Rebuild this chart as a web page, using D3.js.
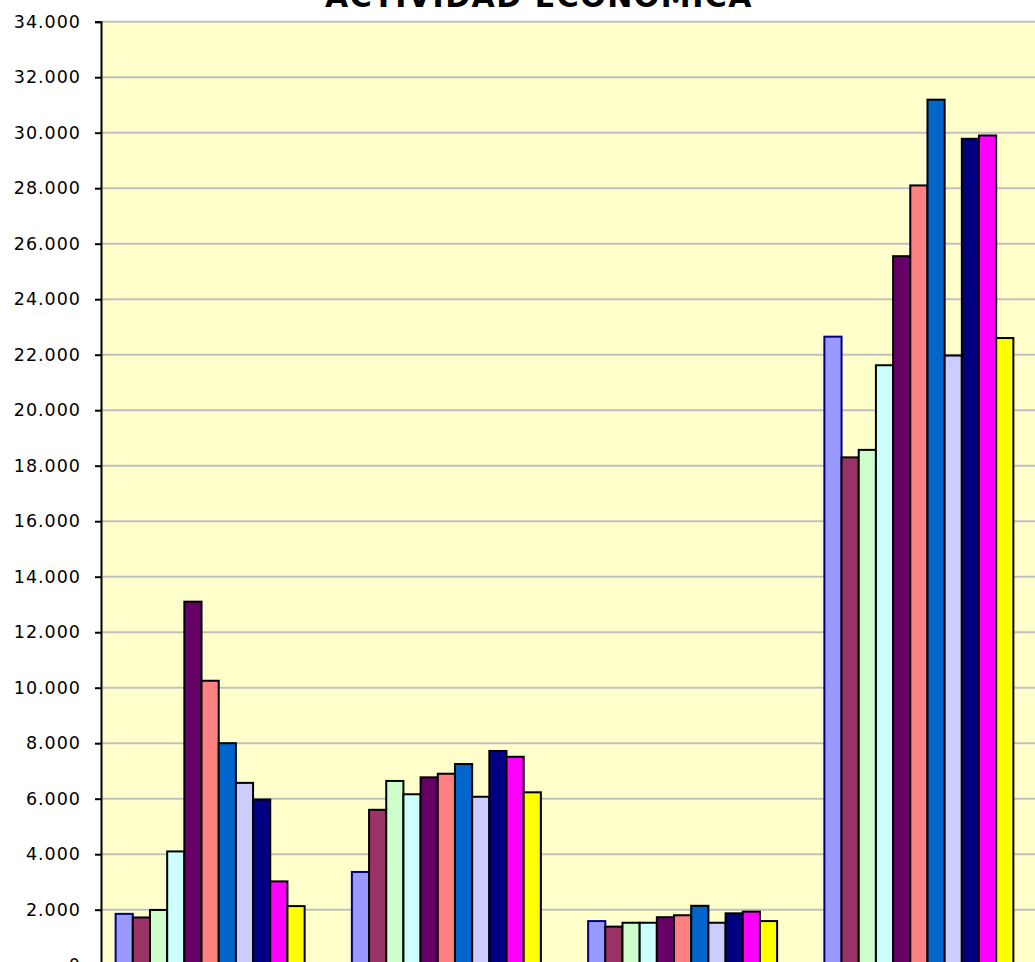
<!DOCTYPE html>
<html>
<head>
<meta charset="utf-8">
<script src="https://cdn.jsdelivr.net/npm/d3@7"></script>
<style>
  html, body { margin: 0; padding: 0; background: #ffffff; }
  svg { display: block; }
</style>
</head>
<body>
<div id="chart"></div>
<script>
// ---- Data ----
const categories = ["Industria", "Construcción", "Agricultura", "Servicios"];
const seriesNames = ["S1", "S2", "S3", "S4", "S5", "S6", "S7", "S8", "S9", "S10", "S11"];
const seriesColors = ["#9999FF", "#993366", "#CCFFCC", "#CCFFFF", "#660066", "#FF8080",
                      "#0066CC", "#CCCCFF", "#000080", "#FF00FF", "#FFFF00"];
const seriesStroke = ["#000080", "#000000", "#000000", "#000000", "#000000", "#000000",
                      "#000000", "#000000", "#000000", "#000000", "#000000"];
// values[seriesIndex][categoryIndex]
const values = [
  [1850, 3360, 1590, 22650],
  [1720, 5600, 1390, 18300],
  [1990, 6640, 1530, 18570],
  [4100, 6160, 1530, 21620],
  [13100, 6770, 1730, 25550],
  [10250, 6900, 1800, 28100],
  [8000, 7250, 2140, 31190],
  [6570, 6070, 1530, 21970],
  [5970, 7720, 1870, 29780],
  [3020, 7510, 1930, 29900],
  [2130, 6230, 1590, 22600]
];
const yTicks = d3.range(0, 34001, 2000);
const title = "ACTIVIDAD ECONÓMICA";

// ---- Layout ----
const W = 1035, H = 962;
const plotLeft = 101, plotTop = 21.7, plotBottom = 965.2, plotRight = 1035;

const svg = d3.select("#chart").append("svg")
  .attr("width", W).attr("height", H);

const y = d3.scaleLinear().domain([0, 34000]).range([plotBottom, plotTop]);
const x0 = d3.scaleBand().domain(categories).range([92, 1037])
  .paddingInner(0.2).paddingOuter(0.1);
const x1 = d3.scaleBand().domain(seriesNames).range([0, x0.bandwidth()]).padding(0);

// background
svg.append("rect")
  .attr("x", plotLeft).attr("y", plotTop)
  .attr("width", plotRight - plotLeft).attr("height", plotBottom - plotTop)
  .attr("fill", "#FFFFCC");

// gridlines
svg.append("g").selectAll("line")
  .data(yTicks.filter(d => d > 0))
  .join("line")
  .attr("x1", plotLeft).attr("x2", plotRight)
  .attr("y1", d => y(d)).attr("y2", d => y(d))
  .attr("stroke", "#C0C0C0").attr("stroke-width", 2);

// bars
const groups = svg.append("g").selectAll("g")
  .data(categories)
  .join("g")
  .attr("transform", c => `translate(${x0(c)},0)`);

groups.selectAll("rect")
  .data((c, ci) => seriesNames.map((s, si) => ({ s, si, v: values[si][ci] })))
  .join("rect")
  .attr("x", d => x1(d.s))
  .attr("y", d => y(d.v))
  .attr("width", x1.bandwidth())
  .attr("height", d => y(0) - y(d.v))
  .attr("fill", d => seriesColors[d.si])
  .attr("stroke", d => seriesStroke[d.si])
  .attr("stroke-width", 2);

// y axis
const yAxis = d3.axisLeft(y)
  .tickValues(yTicks)
  .tickSize(6)
  .tickPadding(14)
  .tickFormat(d => d === 0 ? "0" : d3.format(",")(d).replace(/,/g, "."));

const ag = svg.append("g")
  .attr("transform", `translate(${plotLeft},0)`)
  .call(yAxis);
ag.select(".domain").attr("stroke", "#000").attr("stroke-width", 2);
ag.selectAll(".tick line").attr("stroke", "#000").attr("stroke-width", 2);
ag.selectAll(".tick text")
  .attr("font-family", "'DejaVu Sans', Verdana, sans-serif")
  .attr("font-size", 17.5)
  .attr("letter-spacing", "1px")
  .attr("fill", "#000");

// title
svg.append("text")
  .attr("x", 539).attr("y", 7)
  .attr("text-anchor", "middle")
  .attr("font-family", "'DejaVu Sans', Verdana, sans-serif")
  .attr("font-weight", "bold")
  .attr("font-size", 30)
  .attr("letter-spacing", "1.5px")
  .attr("fill", "#000")
  .text(title);
</script>
</body>
</html>
